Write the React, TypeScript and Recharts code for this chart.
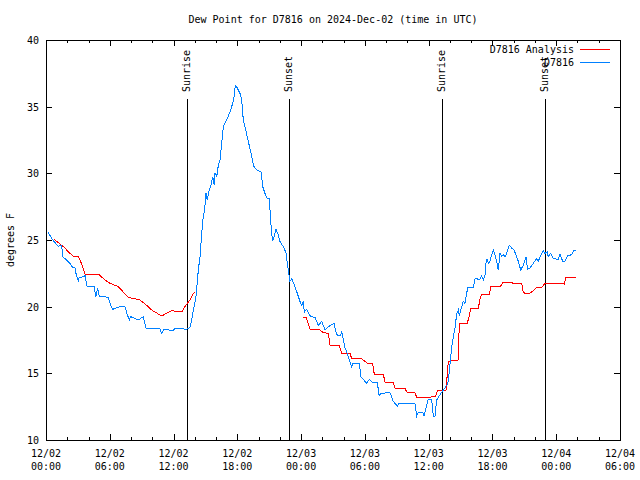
import { LineChart, Line, XAxis, YAxis, ReferenceLine, ReferenceArea } from 'recharts'

// observed dew point (hours since 12/02 00:00 UTC, degrees F)
const obsHours = [
  0.19, 0.54, 0.85, 1.16, 1.32, 1.48, 1.57, 1.79, 2.26, 2.42, 2.73, 2.82, 3.04, 3.13, 3.57, 3.67, 3.83, 4.52, 4.7, 4.86,
  5.01, 5.86, 6.02, 6.27, 6.96, 7.43, 7.65, 7.84, 7.97, 8.68, 9.15, 9.41, 10.72, 10.88, 11.1, 11.98, 12.14, 13.24, 13.55,
  13.71, 13.86, 14.11, 14.33, 14.49, 14.65, 14.74, 14.86, 14.96, 15.05, 15.17, 15.36, 15.52, 15.68, 15.83, 15.9, 16.06,
  16.21, 16.37, 16.53, 16.68, 17.0, 17.31, 17.56, 17.69, 17.81, 18.0, 18.25, 18.41, 18.56, 18.79, 19.03, 19.26, 19.41,
  19.57, 19.82, 20.23, 20.39, 20.6, 20.82, 21.01, 21.14, 21.23, 21.33, 21.45, 21.64, 21.85, 22.01, 22.32, 22.58, 22.7,
  22.79, 22.95, 23.11, 23.42, 23.64, 23.89, 24.05, 24.21, 24.3, 24.52, 24.9, 25.31, 25.62, 25.94, 26.25, 26.56, 27.09,
  27.35, 27.66, 27.82, 28.13, 28.29, 28.44, 28.76, 28.85, 29.47, 29.63, 30.17, 30.41, 30.73, 31.17, 31.35, 31.51, 32.36,
  32.67, 33.05, 33.21, 34.71, 34.87, 35.02, 35.44, 35.56, 35.96, 36.28, 36.44, 36.6, 36.75, 37.07, 37.38, 37.7, 37.85,
  38.01, 38.17, 38.32, 38.48, 38.64, 38.79, 38.88, 39.11, 39.26, 39.42, 39.58, 39.67, 40.2, 40.36, 40.83, 40.99, 41.14,
  41.3, 41.39, 41.51, 41.61, 41.77, 41.93, 42.08, 42.24, 42.4, 42.55, 42.71, 42.87, 43.02, 43.18, 43.34, 43.58, 43.81,
  44.03, 44.21, 44.43, 44.66, 44.9, 45.16, 45.31, 45.53, 45.84, 46.16, 46.31, 46.57, 46.78, 46.94, 47.16, 47.25, 47.48,
  47.72, 48.19, 48.35, 48.61, 48.82, 49.04, 49.45, 49.67, 49.83,
]
const obsValues = [
  25.6, 25.1, 24.8, 24.5, 24.6, 24.55, 23.75, 23.6, 23.25, 23.0, 22.9, 22.5, 21.95, 22.2, 22.25, 22.4, 21.55, 21.5, 20.75,
  21.4, 20.8, 20.7, 20.25, 19.8, 20.0, 20.0, 19.4, 19.0, 19.25, 19.0, 19.25, 18.4, 18.35, 18.0, 18.3, 18.2, 18.4, 18.3,
  18.45, 19.0, 19.75, 20.75, 22.75, 23.75, 25.5, 26.4, 27.0, 27.6, 28.5, 28.0, 28.75, 29.1, 29.75, 29.1, 30.0, 29.75,
  30.6, 31.0, 32.25, 33.5, 34.0, 34.6, 35.25, 35.75, 36.6, 36.4, 36.0, 35.5, 34.0, 33.25, 32.4, 31.6, 31.0, 30.5, 30.25,
  30.1, 29.0, 28.5, 28.1, 28.1, 26.4, 25.5, 24.9, 25.25, 25.8, 25.4, 24.9, 24.5, 24.05, 23.25, 22.75, 21.9, 22.1, 21.5,
  21.0, 20.4, 20.1, 20.4, 19.6, 19.8, 19.25, 19.2, 18.6, 18.9, 18.25, 18.5, 18.75, 17.9, 17.8, 18.1, 16.9, 16.6, 16.25,
  15.5, 15.75, 15.75, 14.75, 14.25, 14.55, 14.3, 14.3, 13.3, 13.5, 13.55, 12.9, 12.55, 12.75, 12.75, 11.8, 12.1, 12.1,
  11.8, 13.05, 13.05, 11.8, 11.8, 13.0, 13.4, 13.75, 14.1, 14.4, 15.75, 17.0, 17.75, 18.4, 19.5, 19.75, 19.3, 20.0, 20.4,
  20.25, 21.0, 21.45, 21.45, 22.1, 22.05, 22.3, 22.0, 22.4, 23.25, 23.6, 23.25, 23.4, 23.9, 24.25, 23.9, 23.4, 22.75,
  24.0, 23.75, 23.9, 23.75, 24.0, 24.6, 24.4, 24.25, 23.9, 23.4, 22.75, 23.1, 23.7, 22.8, 22.9, 23.25, 23.6, 23.4, 23.9,
  24.2, 24.0, 24.1, 23.75, 24.0, 23.6, 23.55, 23.95, 23.4, 23.4, 23.8, 23.9, 24.2, 24.2,
]

// analysis (null = no analysis available)
const anaHours = [
  0.75, 1.32, 1.79, 2.1, 2.57, 3.04, 3.2, 3.45, 3.67, 4.92, 5.55, 6.02, 6.8, 7.27, 7.74, 8.84, 9.47, 9.94, 10.88, 11.35,
  11.82, 12.77, 12.98, 13.55, 13.86, 14.02, 18, 24.21, 24.46, 24.84, 25.71, 26.09, 26.56, 26.72, 27.59, 27.82, 28.6,
  28.76, 29.7, 30.23, 30.73, 30.88, 31.73, 31.89, 32.67, 32.83, 33.77, 33.93, 34.71, 34.87, 35.81, 36.66, 36.81, 37.63,
  37.85, 38.79, 38.88, 39.63, 39.82, 39.95, 40.67, 40.83, 40.99, 41.7, 41.86, 42.78, 42.96, 43.81, 43.96, 44.75, 44.9,
  45.37, 45.69, 46.1, 46.63, 46.94, 47.88, 48.76, 48.89, 49.83,
]
const anaValues = [
  25.05, 24.7, 24.4, 24.1, 23.8, 23.8, 23.5, 23.0, 22.45, 22.45, 22.0, 21.75, 21.5, 21.1, 20.7, 20.5, 20.1, 19.75, 19.3,
  19.5, 19.7, 19.6, 19.9, 20.5, 21.0, 21.05, null, 19.2, 19.2, 18.3, 18.3, 18.05, 18.0, 17.1, 17.1, 16.5, 16.5, 16.1, 16.1,
  15.75, 15.75, 14.95, 14.95, 14.35, 14.35, 13.9, 13.9, 13.6, 13.55, 13.2, 13.2, 13.25, 13.7, 13.75, 15.9, 16.0, 18.75,
  18.75, 19.3, 19.85, 19.85, 20.6, 20.9, 20.9, 21.55, 21.55, 21.8, 21.8, 21.75, 21.75, 21.05, 20.95, 21.1, 21.4, 21.45,
  21.75, 21.75, 21.7, 22.2, 22.2,
]

const sunHours = [13.26, 22.86, 37.25, 46.94]
const sunLabels = ['Sunrise', 'Sunset', 'Sunrise', 'Sunset']

const xTicks = [0, 2, 4, 6, 8, 10, 12, 14, 16, 18, 20, 22, 24, 26, 28, 30, 32, 34, 36, 38, 40, 42, 44, 46, 48, 50, 52, 54]
const yTicks = [10, 15, 20, 25, 30, 35, 40]

const FONT = 'DejaVu Sans Mono'
const PLOT_W = 574
const PLOT_H = 400
const RED = '#ff0000'
const BLUE = '#0080ff'

const observed = obsHours.map((t, i) => ({ t, v: obsValues[i] }))
const analysis = anaHours.map((t, i) => ({ t, v: anaValues[i] }))

const pad = (n: number) => String(n).padStart(2, '0')
// snap 1px lines onto the pixel grid
const px = (n: number) => Math.round(n) + 0.5

function TimeTick({ x, y, payload }: any) {
  const t = payload.value as number
  const major = t % 6 === 0
  const len = major ? 6 : 3
  const day = 2 + Math.floor(t / 24)
  const lx = px(x)
  return (
    <g>
      <line x1={lx} y1={y} x2={lx} y2={y - len} stroke="#000" shapeRendering="crispEdges" />
      <line x1={lx} y1={y - PLOT_H} x2={lx} y2={y - PLOT_H + len} stroke="#000" shapeRendering="crispEdges" />
      {major && (
        <text x={x} y={y} textAnchor="middle" fontFamily={FONT} fontSize={10} fill="#000">
          <tspan x={x} dy={17}>{`12/${pad(day)}`}</tspan>
          <tspan x={x} dy={13}>{`${pad(t % 24)}:00`}</tspan>
        </text>
      )}
    </g>
  )
}

function ValueTick({ x, y, payload }: any) {
  const ly = px(y)
  return (
    <g>
      <line x1={x} y1={ly} x2={x + 6} y2={ly} stroke="#000" shapeRendering="crispEdges" />
      <line x1={x + PLOT_W} y1={ly} x2={x + PLOT_W - 6} y2={ly} stroke="#000" shapeRendering="crispEdges" />
      <text x={x - 7} y={y + 4} textAnchor="end" fontFamily={FONT} fontSize={10} fill="#000">
        {payload.value}
      </text>
    </g>
  )
}

const sunShape = (label: string) => (props: any) => {
  const { x1, y1, y2 } = props
  const top = Math.min(y1, y2)
  const bottom = Math.max(y1, y2)
  return (
    <g>
      <line x1={px(x1)} y1={bottom} x2={px(x1)} y2={top + 59} stroke="#000" shapeRendering="crispEdges" />
      <text
        x={x1}
        y={top + 52}
        transform={`rotate(-90 ${x1} ${top + 52})`}
        dominantBaseline="central"
        fontFamily={FONT}
        fontSize={10}
        fill="#000"
      >
        {label}
      </text>
    </g>
  )
}

export default function App() {
  return (
    <div style={{ position: 'absolute', left: 0, top: 0, width: 640, height: 480, background: '#fff' }}>
      <LineChart width={640} height={480} margin={{ top: 40, right: 20, bottom: 0, left: 0 }}>
        <XAxis
          dataKey="t"
          type="number"
          domain={[0, 54]}
          ticks={xTicks}
          height={40}
          tickSize={0}
          tickMargin={0}
          axisLine={false}
          tickLine={false}
          tick={<TimeTick />}
          allowDuplicatedCategory={false}
        />
        <YAxis
          type="number"
          domain={[10, 40]}
          ticks={yTicks}
          width={46}
          tickSize={0}
          tickMargin={0}
          axisLine={false}
          tickLine={false}
          tick={<ValueTick />}
        />
        <ReferenceArea
          x1={0}
          x2={54}
          y1={10}
          y2={40}
          fill="none"
          stroke="#000"
          strokeWidth={1}
          fillOpacity={0}
          shapeRendering="crispEdges"
        />
        {sunHours.map((h, i) => (
          <ReferenceLine key={i} x={h} shape={sunShape(sunLabels[i])} />
        ))}
        <Line
          data={analysis}
          dataKey="v"
          type="linear"
          stroke={RED}
          strokeWidth={1}
          dot={false}
          activeDot={false}
          connectNulls={false}
          shapeRendering="crispEdges"
          isAnimationActive={false}
        />
        <Line
          data={observed}
          dataKey="v"
          type="linear"
          stroke={BLUE}
          strokeWidth={1}
          dot={false}
          activeDot={false}
          shapeRendering="crispEdges"
          isAnimationActive={false}
        />
      </LineChart>
      <svg width={640} height={480} style={{ position: 'absolute', left: 0, top: 0, pointerEvents: 'none' }}>
        <text x={333} y={23} textAnchor="middle" fontFamily={FONT} fontSize={10} fill="#000">
          Dew Point for D7816 on 2024-Dec-02 (time in UTC)
        </text>
        <text
          x={10}
          y={240}
          transform="rotate(-90 10 240)"
          textAnchor="middle"
          dominantBaseline="central"
          fontFamily={FONT}
          fontSize={10}
          fill="#000"
        >
          degrees F
        </text>
        <text x={574} y={53} textAnchor="end" fontFamily={FONT} fontSize={10} fill="#000">
          D7816 Analysis
        </text>
        <line x1={580} y1={49.5} x2={610} y2={49.5} stroke={RED} shapeRendering="crispEdges" />
        <text x={574} y={66} textAnchor="end" fontFamily={FONT} fontSize={10} fill="#000">
          D7816
        </text>
        <line x1={580} y1={62.5} x2={610} y2={62.5} stroke={BLUE} shapeRendering="crispEdges" />
      </svg>
    </div>
  )
}
